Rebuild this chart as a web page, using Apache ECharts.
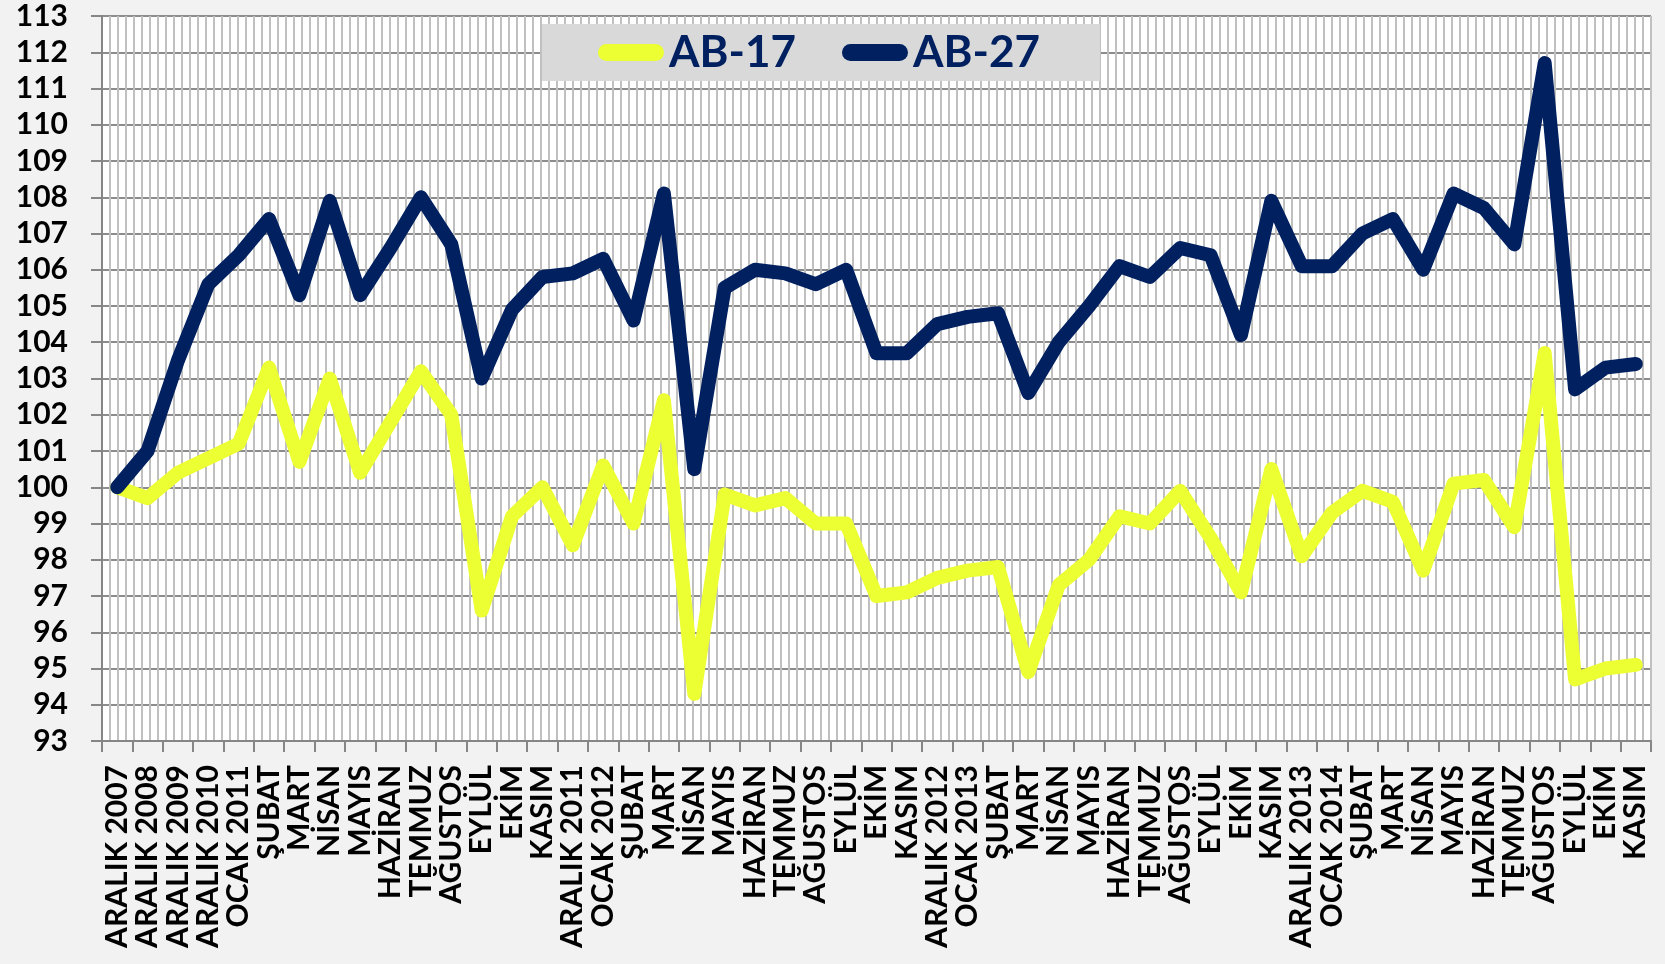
<!DOCTYPE html>
<html>
<head>
<meta charset="utf-8">
<title>AB-17 / AB-27</title>
<script src="https://cdn.jsdelivr.net/npm/echarts@6/dist/echarts.min.js"></script>
<style>
    html, body { margin: 0; padding: 0; background: #f2f2f2; }
    #container { width: 1665px; height: 964px; }
</style>
</head>
<body>
<div id="container"></div>
<script>
// x ekseni etiketleri
var months = ['ARALIK 2007', 'ARALIK 2008', 'ARALIK 2009', 'ARALIK 2010', 'OCAK 2011', 'ŞUBAT', 'MART', 'NİSAN', 'MAYIS', 'HAZİRAN',
    'TEMMUZ', 'AĞUSTOS', 'EYLÜL', 'EKİM', 'KASIM', 'ARALIK 2011', 'OCAK 2012', 'ŞUBAT', 'MART', 'NİSAN',
    'MAYIS', 'HAZİRAN', 'TEMMUZ', 'AĞUSTOS', 'EYLÜL', 'EKİM', 'KASIM', 'ARALIK 2012', 'OCAK 2013', 'ŞUBAT',
    'MART', 'NİSAN', 'MAYIS', 'HAZİRAN', 'TEMMUZ', 'AĞUSTOS', 'EYLÜL', 'EKİM', 'KASIM', 'ARALIK 2013',
    'OCAK 2014', 'ŞUBAT', 'MART', 'NİSAN', 'MAYIS', 'HAZİRAN', 'TEMMUZ', 'AĞUSTOS', 'EYLÜL', 'EKİM', 'KASIM'];

var ab17 = [100.0, 99.7, 100.4, 100.8, 101.2, 103.3, 100.7, 103.0, 100.4, 101.8,
    103.2, 102.0, 96.6, 99.2, 100.0, 98.4, 100.6, 99.0, 102.4, 94.3,
    99.8, 99.5, 99.7, 99.0, 99.0, 97.0, 97.1, 97.5, 97.7, 97.8,
    94.9, 97.3, 98.0, 99.2, 99.0, 99.9, 98.6, 97.1, 100.5, 98.1,
    99.3, 99.9, 99.6, 97.7, 100.1, 100.2, 98.9, 103.7, 94.7, 95.0, 95.1];

var ab27 = [100.0, 101.0, 103.5, 105.6, 106.4, 107.4, 105.3, 107.9, 105.3, 106.6,
    108.0, 106.7, 103.0, 104.9, 105.8, 105.9, 106.3, 104.6, 108.1, 100.5,
    105.5, 106.0, 105.9, 105.6, 106.0, 103.7, 103.7, 104.5, 104.7, 104.8,
    102.6, 104.0, 105.0, 106.1, 105.8, 106.6, 106.4, 104.2, 107.9, 106.1,
    106.1, 107.0, 107.4, 106.0, 108.1, 107.7, 106.7, 111.7, 102.7, 103.3, 103.4];

var yMin = 93, yMax = 113;
// ince dikey ızgara sayısı
var minorCount = 194;

var ChartModule = (function (echarts) {
    var chart;
    var FONT = 'Lato';
    var NAVY = '#002060';
    var YELLOW = '#ecff33';

    function lineSeries(name, data, color) {
        return {
            name: name,
            type: 'line',
            xAxisIndex: 1,
            data: data,
            showSymbol: false,
            symbol: 'none',
            silent: true,
            animation: false,
            lineStyle: {
                color: color,
                width: 14,
                cap: 'round',
                join: 'round'
            },
            itemStyle: { color: color }
        };
    }

    return {
        init: function () {
            chart = echarts.init(document.getElementById('container'));
            var pill = 'path://M8.5,0 H57.5 A8.5,8.5 0 0 1 57.5,17 H8.5 A8.5,8.5 0 0 1 8.5,0 Z';
            chart.setOption({
                backgroundColor: '#f2f2f2',
                animation: false,
                textStyle: { fontFamily: FONT },
                grid: {
                    left: 102,
                    right: 14,
                    top: 16,
                    bottom: 223,
                    show: true,
                    backgroundColor: '#ffffff',
                    borderWidth: 0,
                    containLabel: false,
                    outerBoundsMode: 'none'
                },
                legend: {
                    left: 542,
                    top: 24,
                    padding: [5, 60, 5, 56],
                    backgroundColor: '#d9d9d9',
                    itemWidth: 66,
                    itemHeight: 17,
                    itemGap: 46,
                    textStyle: {
                        color: NAVY,
                        fontFamily: FONT,
                        fontWeight: 'bold',
                        fontSize: 44,
                        lineHeight: 47
                    },
                    data: [
                        { name: 'AB-17', icon: pill, itemStyle: { color: YELLOW } },
                        { name: 'AB-27', icon: pill, itemStyle: { color: NAVY } }
                    ]
                },
                xAxis: [{
                    // ince dikey çizgiler
                    type: 'value',
                    min: 0,
                    max: minorCount,
                    interval: 1,
                    axisLine: { show: false },
                    axisTick: { show: false },
                    axisLabel: { show: false },
                    splitLine: { show: true, lineStyle: { color: '#c0c0c0', width: 2 } }
                }, {
                    type: 'category',
                    data: months,
                    boundaryGap: true,
                    position: 'bottom',
                    axisLine: { show: true, onZero: false, lineStyle: { color: '#868686', width: 2 } },
                    axisTick: { show: true, inside: false, length: 11, lineStyle: { color: '#868686', width: 2 } },
                    splitLine: { show: false },
                    axisLabel: {
                        interval: 0,
                        rotate: 90,
                        margin: 24,
                        color: '#000',
                        fontFamily: FONT,
                        fontWeight: 'bold',
                        fontSize: 30
                    }
                }],
                yAxis: {
                    type: 'value',
                    min: yMin,
                    max: yMax,
                    interval: 1,
                    axisLine: { show: true, lineStyle: { color: '#868686', width: 2 } },
                    axisTick: { show: true, length: 11, lineStyle: { color: '#868686', width: 2 } },
                    splitLine: { show: true, lineStyle: { color: '#8c8c8c', width: 2 } },
                    axisLabel: {
                        margin: 34,
                        color: '#000',
                        fontFamily: FONT,
                        fontWeight: 'bold',
                        fontSize: 30
                    }
                },
                series: [
                    lineSeries('AB-17', ab17, YELLOW),
                    lineSeries('AB-27', ab27, NAVY)
                ]
            });
        }
    };
})(echarts);

ChartModule.init();
</script>
</body>
</html>
